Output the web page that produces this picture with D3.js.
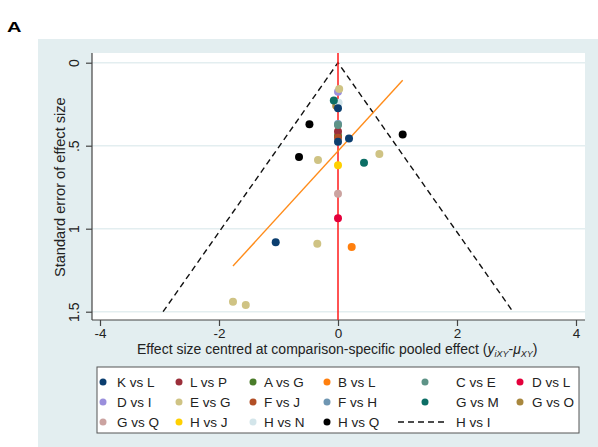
<!DOCTYPE html>
<html>
<head>
<meta charset="utf-8">
<script src="https://cdn.jsdelivr.net/npm/d3@7"></script>
<style>
  body { margin: 0; background: #fff; }
  svg { font-family: "Liberation Sans", Arial, sans-serif; }
</style>
</head>
<body>
<div id="chart"></div>
<script>
// comparisons in legend order
var comparisons = ["K vs L", "L vs P", "A vs G", "B vs L", "C vs E", "D vs L",
                   "D vs I", "E vs G", "F vs J", "F vs H", "G vs M", "G vs O",
                   "G vs Q", "H vs J", "H vs N", "H vs Q"]
var palette = ["#0b3e6f", "#9b2f3a", "#4a7c2a", "#ff7f0e", "#5e9387", "#e4003b",
               "#9a8fdc", "#cfc384", "#b24f26", "#6f96b2", "#0c6e65", "#a8873e",
               "#cba3a0", "#ffd000", "#d3e5ea", "#000000"]

// each study: comparison, centred effect size, standard error
var ptGroup  = ["D vs I", "F vs H", "A vs G", "L vs P",
                "G vs O", "H vs N", "K vs L", "G vs M", "E vs G",
                "C vs E", "F vs J", "K vs L", "K vs L",
                "H vs Q", "H vs Q", "H vs Q",
                "E vs G", "E vs G", "G vs M", "H vs J", "G vs Q", "D vs L",
                "K vs L", "E vs G", "B vs L", "E vs G", "E vs G"]
var ptEffect = [0.00, 0.00, 0.00, 0.00,
                -0.03, 0.01, 0.00, -0.07, 0.02,
                0.00, 0.00, 0.00, 0.185,
                -0.48, -0.655, 1.087,
                -0.336, 0.695, 0.437, 0.00, 0.00, 0.00,
                -1.047, -0.348, 0.23, -1.765, -1.55]
var ptSE     = [0.175, 0.37, 0.44, 0.415,
                0.26, 0.241, 0.275, 0.227, 0.158,
                0.375, 0.452, 0.476, 0.456,
                0.371, 0.568, 0.432,
                0.586, 0.55, 0.602, 0.618, 0.789, 0.937,
                1.082, 1.09, 1.11, 1.44, 1.46]

// fitted line (small-study effects) end points
var regEffect = [-1.765, 1.087]
var regSE     = [1.225, 0.106]

// pseudo 95% limits: apex and base
var ciSE = [0, 1.5]

var xTicks = [-4, -2, 0, 2, 4]
var yTicks = [0, 0.5, 1, 1.5]
var yTickLabels = ["0", ".5", "1", "1.5"]

var W = 598, H = 447
var svg = d3.select("#chart").append("svg").attr("width", W).attr("height", H)

// panel label
svg.append("text").attr("x", 7).attr("y", 32).attr("font-size", 14).attr("font-weight", "bold")
    .attr("textLength", 14.5).attr("lengthAdjust", "spacingAndGlyphs").text("A")

// outer graph region
svg.append("rect").attr("x", 38).attr("y", 39).attr("width", W - 38).attr("height", H - 39).attr("fill", "#e3eef0")

// plot region
var plot = { left: 92, right: 585, top: 53, bottom: 320 }
svg.append("rect").attr("x", plot.left).attr("y", plot.top)
    .attr("width", plot.right - plot.left).attr("height", plot.bottom - plot.top).attr("fill", "#ffffff")

var x = d3.scaleLinear().domain([-4, 4]).range([100, 576])
var y = d3.scaleLinear().domain([0, 1.5]).range([62.7, 311.7])

// grid lines
svg.append("g").selectAll("line").data(yTicks).enter().append("line")
    .attr("x1", plot.left).attr("x2", plot.right)
    .attr("y1", function (d) { return y(d) }).attr("y2", function (d) { return y(d) })
    .attr("stroke", "#e3eef0").attr("stroke-width", 1.5)

// axes
var yAxis = d3.axisLeft(y).tickValues(yTicks).tickSize(6).tickPadding(6)
    .tickFormat(function (d, i) { return yTickLabels[i] })
var gy = svg.append("g").attr("transform", `translate(${plot.left},0)`).call(yAxis)
gy.select(".domain").attr("d", `M0,${plot.top}V${plot.bottom}`)
gy.selectAll("text").attr("font-size", 14).attr("fill", "#222")
    .attr("transform", "rotate(-90)").attr("text-anchor", "middle")
    .attr("x", 0).attr("y", -13).attr("dy", 0)

var xAxis = d3.axisBottom(x).tickValues(xTicks).tickSize(6).tickPadding(3)
    .tickFormat(function (d) { return String(d) })
var gx = svg.append("g").attr("transform", `translate(0,${plot.bottom})`).call(xAxis)
gx.select(".domain").attr("d", `M${plot.left},0H${plot.right}`)
gx.selectAll("text").attr("font-size", 13.5).attr("fill", "#222").attr("y", 18).attr("dy", 0)

svg.selectAll(".domain").attr("stroke", "#444").attr("stroke-width", 1.2)
svg.selectAll(".tick line").attr("stroke", "#444").attr("stroke-width", 1.2)
svg.selectAll("g").attr("font-family", null)

// axis titles
svg.append("text").attr("transform", `translate(65,${y(0.75)}) rotate(-90)`)
    .attr("text-anchor", "middle").attr("font-size", 14.6).attr("fill", "#222")
    .text("Standard error of effect size")

var xt = svg.append("text").attr("x", 137).attr("y", 354)
    .attr("font-size", 14).attr("fill", "#222")
xt.append("tspan").text("Effect size centred at comparison-specific pooled effect (")
xt.append("tspan").attr("font-style", "italic").text("y")
xt.append("tspan").attr("font-style", "italic").attr("font-size", 9).attr("dy", 3).text("iXY")
xt.append("tspan").attr("dy", -3).text("-")
xt.append("tspan").attr("font-style", "italic").text("\u03bc")
xt.append("tspan").attr("font-style", "italic").attr("font-size", 9).attr("dy", 3).text("XY")
xt.append("tspan").attr("dy", -3).text(")")

// pseudo confidence limits
var ciLine = d3.line().x(function (d) { return x(d[0]) }).y(function (d) { return y(d[1]) })
var ciPts = [[-1.96 * ciSE[1], ciSE[1]], [0, ciSE[0]], [1.96 * ciSE[1], ciSE[1]]]
svg.append("path").attr("d", ciLine(ciPts)).attr("fill", "none")
    .attr("stroke", "#111").attr("stroke-width", 1.4).attr("stroke-dasharray", "6,4")

// zero line
svg.append("line").attr("x1", x(0)).attr("x2", x(0)).attr("y1", plot.top).attr("y2", plot.bottom)
    .attr("stroke", "#ff1a1a").attr("stroke-width", 1.5)

// fitted line
svg.append("path").attr("d", ciLine(regEffect.map(function (d, i) { return [d, regSE[i]] })))
    .attr("fill", "none").attr("stroke", "#ff8c1a").attr("stroke-width", 1.4)

// studies
var color = d3.scaleOrdinal().domain(comparisons).range(palette)
svg.append("g").selectAll("circle").data(ptGroup).enter().append("circle")
    .attr("cx", function (d, i) { return x(ptEffect[i]) })
    .attr("cy", function (d, i) { return y(ptSE[i]) })
    .attr("r", 4)
    .attr("fill", function (d) { return color(d) })

// legend
var legend = svg.append("g")
legend.append("rect").attr("x", 97).attr("y", 367).attr("width", 482).attr("height", 66)
    .attr("fill", "#fff").attr("stroke", "#555").attr("stroke-width", 1)

var colMarker = [103, 179, 253, 327, 425, 520]
var colText = [117, 190, 264, 338, 456, 532]
var rowY = [382, 402, 422]
var entries = comparisons.concat(["H vs I"])
entries.forEach(function (name, i) {
    var c = i % 6, r = Math.floor(i / 6)
    if (name == "H vs I") {
        legend.append("line").attr("x1", 398).attr("x2", 448).attr("y1", rowY[r]).attr("y2", rowY[r])
            .attr("stroke", "#111").attr("stroke-width", 1.4).attr("stroke-dasharray", "6,4")
    } else {
        legend.append("circle").attr("cx", colMarker[c]).attr("cy", rowY[r]).attr("r", 3.5).attr("fill", color(name))
    }
    legend.append("text").attr("x", colText[c]).attr("y", rowY[r] + 5).attr("font-size", 13.5)
        .attr("fill", "#222").text(name)
})
</script>
</body>
</html>
